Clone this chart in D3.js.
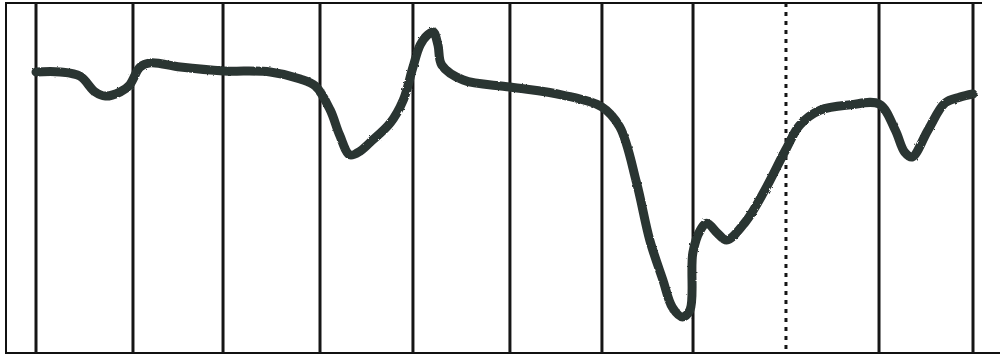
<!DOCTYPE html>
<html>
<head>
<meta charset="utf-8">
<script src="https://cdn.jsdelivr.net/npm/d3@7"></script>
<style>
  html, body { margin: 0; padding: 0; background: #fff; }
  svg { display: block; }
</style>
</head>
<body>
<svg id="vis-01" width="1000" height="355"></svg>
<script>
// chart recorder strip: time in grid divisions, pen position 0-100
const gridTimes = [0, 1.035, 1.996, 3.031, 4.023, 5.058, 6.04, 7.012, 8.004, 8.997, 10];
const dottedGrid = [8.004];

const traceTime = [
  0, 0.26, 0.47, 0.63, 0.74, 0.9, 1.0, 1.11, 1.22, 1.54, 2.0, 2.5, 2.82, 2.98,
  3.14, 3.24, 3.35, 3.46, 3.57, 3.78, 3.92, 4.02, 4.1, 4.18, 4.24, 4.29, 4.33,
  4.56, 5.06, 5.62, 6.04, 6.23, 6.41, 6.55, 6.69, 6.79, 6.9, 6.98, 7.01, 7.09,
  7.16, 7.27, 7.37, 7.57, 7.78, 8.0, 8.15, 8.37, 8.69, 9.0, 9.17, 9.27, 9.35,
  9.52, 9.7, 9.86, 10
];
const traceValue = [
  80.3, 80.3, 79.1, 74.6, 73.4, 74.6, 76.6, 81.7, 82.9, 81.7, 80.6, 80.3, 78.3, 76.3,
  69.4, 62.3, 56.6, 57.7, 60.3, 65.7, 72.3, 81.4, 88.0, 90.9, 91.7, 88.0, 82.3,
  78.0, 76.0, 73.7, 70.3, 64.6, 48.6, 32.3, 20.9, 13.1, 10.3, 12.3, 28.6, 35.1,
  37.1, 34.3, 32.3, 37.4, 46.6, 58.0, 65.1, 69.4, 70.9, 71.1, 63.7, 57.4, 56.0,
  63.7, 71.4, 73.1, 74.0
];

let svg = d3.select('#vis-01');

let x = d3.scaleLinear()
  .domain([0, 10])
  .range([36, 973]);

let y = d3.scaleLinear()
  .domain([0, 100])
  .range([353, 3]);

let data = traceTime.map((t, i) => { return { t: t, v: traceValue[i] }; });

// rough paper look
let defs = svg.append('defs');
function roughFilter(id, scale) {
  let f = defs.append('filter')
    .attr('id', id)
    .attr('x', '-5%').attr('y', '-5%')
    .attr('width', '110%').attr('height', '110%');
  f.append('feTurbulence')
    .attr('type', 'fractalNoise')
    .attr('baseFrequency', '0.35')
    .attr('numOctaves', 2)
    .attr('seed', 3)
    .attr('result', 'noise');
  f.append('feDisplacementMap')
    .attr('in', 'SourceGraphic')
    .attr('in2', 'noise')
    .attr('scale', scale);
}
roughFilter('rough', 2.2);
roughFilter('rough-grid', 1.2);

// frame
let frame = svg.append('g').attr('class', 'frame');
frame.append('line')
  .attr('x1', 6).attr('x2', 6).attr('y1', 2).attr('y2', 354)
  .attr('stroke', '#111').attr('stroke-width', 2);
frame.append('line')
  .attr('x1', 5).attr('x2', 982).attr('y1', 3).attr('y2', 3)
  .attr('stroke', '#111').attr('stroke-width', 2);
frame.append('line')
  .attr('x1', 5).attr('x2', 1000).attr('y1', 353).attr('y2', 353)
  .attr('stroke', '#111').attr('stroke-width', 2);

// time grid
let grid = svg.append('g').attr('class', 'grid').style('filter', 'url(#rough-grid)');
grid.selectAll('.gridline')
  .data(gridTimes)
  .enter().append('line')
  .attr('class', 'gridline')
  .attr('x1', (d) => { return x(d); })
  .attr('x2', (d) => { return x(d); })
  .attr('y1', y(100))
  .attr('y2', y(0))
  .attr('stroke', '#151515')
  .attr('stroke-width', 3)
  .attr('stroke-dasharray', (d) => { return dottedGrid.indexOf(d) >= 0 ? '4,5' : null; });

// pen trace
let line = d3.line()
  .x((d) => { return x(d.t); })
  .y((d) => { return y(d.v); })
  .curve(d3.curveCatmullRom.alpha(0.5));

svg.append('path')
  .datum(data)
  .attr('class', 'trace')
  .attr('fill', 'none')
  .attr('stroke', '#2c3432')
  .attr('stroke-width', 9)
  .attr('stroke-linecap', 'round')
  .attr('stroke-linejoin', 'round')
  .attr('d', line)
  .style('filter', 'url(#rough)');
</script>
</body>
</html>
